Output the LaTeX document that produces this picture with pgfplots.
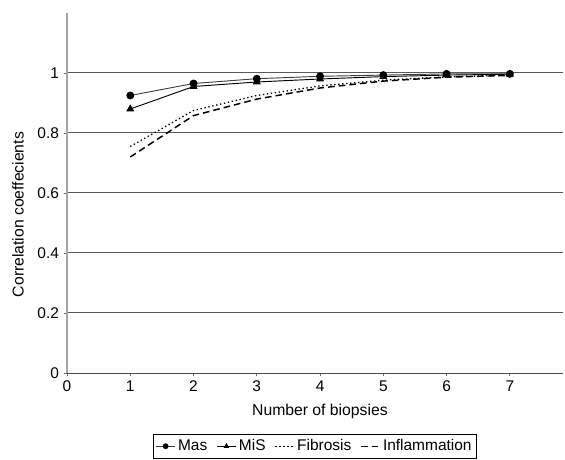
\documentclass[border=0pt]{standalone}
\usepackage{pgfplots}
\pgfplotsset{compat=1.18}
\usepackage{fontspec}
\setmainfont{Liberation Sans}
\begin{document}
\begin{tikzpicture}[x=1pt,y=1pt]
\begin{axis}[
  scale only axis,
  width=372pt, height=270pt,
  xmin=0, xmax=7.84, ymin=0, ymax=1.2,
  xtick={0,1,2,3,4,5,6,7},
  ytick={0,0.2,0.4,0.6,0.8,1},
  yticklabels={0,0.2,0.4,0.6,0.8,1},
  axis x line=bottom, axis y line=left,
  axis line style={-},
  x axis line style={black!70, line width=0.75pt},
  y axis line style={black!35, line width=1.5pt},
  ymajorgrids, grid style={black!65, line width=0.75pt},
  tick align=outside, major tick length=2.5pt,
  tick style={black!60, line width=0.6pt},
  /pgf/number format/assume math mode=true,
  tick label style={font=\fontsize{11.6}{14}\selectfont},
  xlabel={Number of biopsies},
  ylabel={Correlation coeffecients},
  label style={font=\fontsize{11.8}{14}\selectfont},
  xlabel style={at={(axis description cs:0.51,-0.106)}, anchor=center},
  ylabel style={at={(axis description cs:-0.099,0.44)}, anchor=center, rotate=0},
  legend columns=4,
  legend style={at={(axis description cs:0.5,-0.169)}, anchor=north,
    draw=black, line width=0.6pt, font=\fontsize{11.6}{14}\selectfont,
    /tikz/every even column/.append style={column sep=5pt},
    inner sep=2pt},
  legend image code/.code={\draw[mark repeat=2,mark phase=2,#1, line width=0.5pt, mark size=1.9pt] plot coordinates {(0cm,0cm) (0.25cm,0cm) (0.5cm,0cm)};},
]
\coordinate (sw) at (rel axis cs:0,0);
\coordinate (ne) at (rel axis cs:1,1);
\addplot[black!75, line width=0.7pt, mark=*, mark size=2.6pt, mark options={fill=black, draw=black, solid}]
  coordinates {(1,0.925) (2,0.965) (3,0.981) (4,0.989) (5,0.993) (6,0.997) (7,0.997)};
\addlegendentry{Mas}
\addplot[black, line width=0.7pt, mark=triangle*, mark size=2.8pt, mark options={fill=black, draw=black, solid}]
  coordinates {(1,0.88) (2,0.955) (3,0.970) (4,0.980) (5,0.988) (6,0.993) (7,0.996)};
\addlegendentry{MiS}
\addplot[black, line width=1pt, dotted]
  coordinates {(1,0.755) (2,0.875) (3,0.925) (4,0.957) (5,0.976) (6,0.987) (7,0.993)};
\addlegendentry{Fibrosis}
\addplot[black, line width=1.1pt, dash pattern=on 5pt off 3pt]
  coordinates {(1,0.72) (2,0.858) (3,0.913) (4,0.950) (5,0.973) (6,0.986) (7,0.992)};
\addlegendentry{Inflammation}
\end{axis}
\pgfresetboundingbox
\path ([shift={(-50.25pt,-64.5pt)}]sw) rectangle ([shift={(1.5pt,9.75pt)}]ne);
\end{tikzpicture}
\end{document}
